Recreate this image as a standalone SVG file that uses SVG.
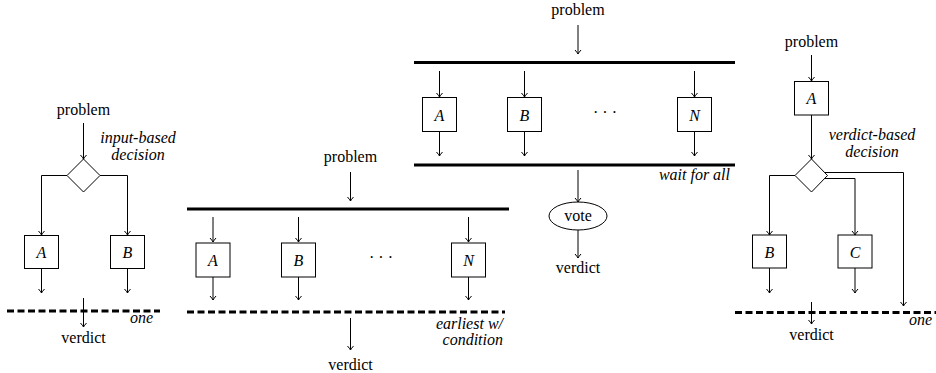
<svg xmlns="http://www.w3.org/2000/svg" width="936" height="373" viewBox="0 0 936 373">
<defs>
<marker id="arr" viewBox="-5 -4 6 8" refX="0" refY="0" markerWidth="6" markerHeight="8" markerUnits="userSpaceOnUse" orient="auto">
<path d="M-4,-3 Q-1.5,-0.8 0,0 Q-1.5,0.8 -4,3" fill="none" stroke="#000" stroke-width="1"/>
</marker>
<style>
text{font-family:'Liberation Serif','Times New Roman',serif;font-size:16px;fill:#000}
.it{font-style:italic}
.c{text-anchor:middle}
.e{text-anchor:end}
.box{fill:#fff;stroke:#000;stroke-width:1}
.ar{fill:none;stroke:#000;stroke-width:1;marker-end:url(#arr)}
.bar{stroke:#000;stroke-width:3}
.dash{stroke:#000;stroke-width:3;stroke-dasharray:7 3.5}
</style>
</defs>
<rect width="936" height="373" fill="#fff"/>

<g id="connectors">
<line class="ar" x1="83.5" y1="123" x2="83.5" y2="159"/>
<path class="ar" d="M67,175.5 H41.5 V235"/>
<path class="ar" d="M100,175.5 H127.5 V235"/>
<line class="ar" x1="41.5" y1="269" x2="41.5" y2="293"/>
<line class="ar" x1="127.5" y1="269" x2="127.5" y2="293"/>
<line class="ar" x1="83.5" y1="298" x2="83.5" y2="327"/>
<line class="ar" x1="350.5" y1="172" x2="350.5" y2="201"/>
<line class="ar" x1="213" y1="217" x2="213" y2="242"/>
<line class="ar" x1="298.5" y1="217" x2="298.5" y2="242"/>
<line class="ar" x1="468.5" y1="217" x2="468.5" y2="242"/>
<line class="ar" x1="213" y1="277" x2="213" y2="300"/>
<line class="ar" x1="298.5" y1="277" x2="298.5" y2="300"/>
<line class="ar" x1="468.5" y1="277" x2="468.5" y2="300"/>
<line class="ar" x1="350.5" y1="318" x2="350.5" y2="350"/>
<line class="ar" x1="578" y1="25" x2="578" y2="54"/>
<line class="ar" x1="439.5" y1="71" x2="439.5" y2="97"/>
<line class="ar" x1="524.5" y1="71" x2="524.5" y2="97"/>
<line class="ar" x1="694.5" y1="71" x2="694.5" y2="97"/>
<line class="ar" x1="439.5" y1="132" x2="439.5" y2="156"/>
<line class="ar" x1="524.5" y1="132" x2="524.5" y2="156"/>
<line class="ar" x1="694.5" y1="132" x2="694.5" y2="156"/>
<line class="ar" x1="578" y1="170" x2="578" y2="202"/>
<line class="ar" x1="578" y1="230" x2="578" y2="258"/>
<line class="ar" x1="811.5" y1="55" x2="811.5" y2="81"/>
<line class="ar" x1="811.5" y1="115" x2="811.5" y2="159"/>
<path class="ar" d="M795,175.5 H769.5 V235"/>
<path class="ar" d="M824.5,178.5 H855 V235"/>
<path class="ar" d="M825,172.5 H903.5 V306"/>
<line class="ar" x1="769.5" y1="268" x2="769.5" y2="293"/>
<line class="ar" x1="855" y1="268" x2="855" y2="293"/>
<line class="ar" x1="811.5" y1="302" x2="811.5" y2="324"/>
</g>

<g id="left-panel">
<text x="83.5" y="115" class="c">problem</text>
<text x="138" y="143" class="c it">input-based</text>
<text x="138" y="160" class="c it">decision</text>
<g id="left-decision"><polygon class="box" points="83.5,159 100,175.5 83.5,192 67,175.5"/></g>
<g id="left-A"><rect class="box" x="24.5" y="235.5" width="34" height="33"/><text x="41.5" y="258" class="c it">A</text></g>
<g id="left-B"><rect class="box" x="110.5" y="235.5" width="34" height="33"/><text x="127.5" y="258" class="c it">B</text></g>
<g id="left-one"><line class="dash" x1="7" y1="311" x2="160" y2="311"/><text x="153" y="323" class="e it">one</text></g>
<text x="83.5" y="343" class="c">verdict</text>
</g>

<g id="middle-panel">
<text x="350.5" y="162" class="c">problem</text>
<g id="mid-split"><line class="bar" x1="187" y1="209" x2="509" y2="209"/></g>
<g id="mid-A"><rect class="box" x="196" y="243" width="34" height="34"/><text x="213" y="266" class="c it">A</text></g>
<g id="mid-B"><rect class="box" x="281.5" y="243" width="34" height="34"/><text x="298.5" y="266" class="c it">B</text></g>
<text x="381" y="263" class="c">· · ·</text>
<g id="mid-N"><rect class="box" x="451.5" y="243" width="34" height="34"/><text x="468.5" y="266" class="c it">N</text></g>
<g id="mid-earliest"><line class="dash" x1="187" y1="312" x2="505" y2="312"/>
<text x="503" y="329" class="e it">earliest w/</text>
<text x="503" y="345" class="e it">condition</text></g>
<text x="350.5" y="370" class="c">verdict</text>
</g>

<g id="top-panel">
<text x="578" y="15" class="c">problem</text>
<g id="top-split"><line class="bar" x1="414" y1="62.5" x2="735" y2="62.5"/></g>
<g id="top-A"><rect class="box" x="422.5" y="97.5" width="34" height="34"/><text x="439.5" y="120.5" class="c it">A</text></g>
<g id="top-B"><rect class="box" x="507.5" y="97.5" width="34" height="34"/><text x="524.5" y="120.5" class="c it">B</text></g>
<text x="605" y="118" class="c">· · ·</text>
<g id="top-N"><rect class="box" x="677.5" y="97.5" width="34" height="34"/><text x="694.5" y="120.5" class="c it">N</text></g>
<g id="top-wait"><line class="bar" x1="414" y1="165" x2="735" y2="165"/><text x="730" y="180" class="e it">wait for all</text></g>
<g id="top-vote"><ellipse class="box" cx="578" cy="216" rx="29" ry="14"/><text x="578" y="221" class="c">vote</text></g>
<text x="578" y="273" class="c">verdict</text>
</g>

<g id="right-panel">
<text x="811.5" y="47" class="c">problem</text>
<g id="right-A"><rect class="box" x="794.5" y="81.5" width="34" height="33.5"/><text x="811.5" y="104" class="c it">A</text></g>
<text x="872" y="140" class="c it">verdict-based</text>
<text x="872" y="157" class="c it">decision</text>
<g id="right-decision"><polygon class="box" points="811.5,159 827.5,175.5 811.5,192 795,175.5"/></g>
<g id="right-B"><rect class="box" x="752.5" y="235" width="34" height="33"/><text x="769.5" y="257.5" class="c it">B</text></g>
<g id="right-C"><rect class="box" x="838" y="235" width="34" height="33"/><text x="855" y="257.5" class="c it">C</text></g>
<g id="right-one"><line class="dash" x1="735" y1="312.5" x2="936" y2="312.5"/><text x="932" y="325" class="e it">one</text></g>
<text x="811.5" y="340" class="c">verdict</text>
</g>
</svg>
